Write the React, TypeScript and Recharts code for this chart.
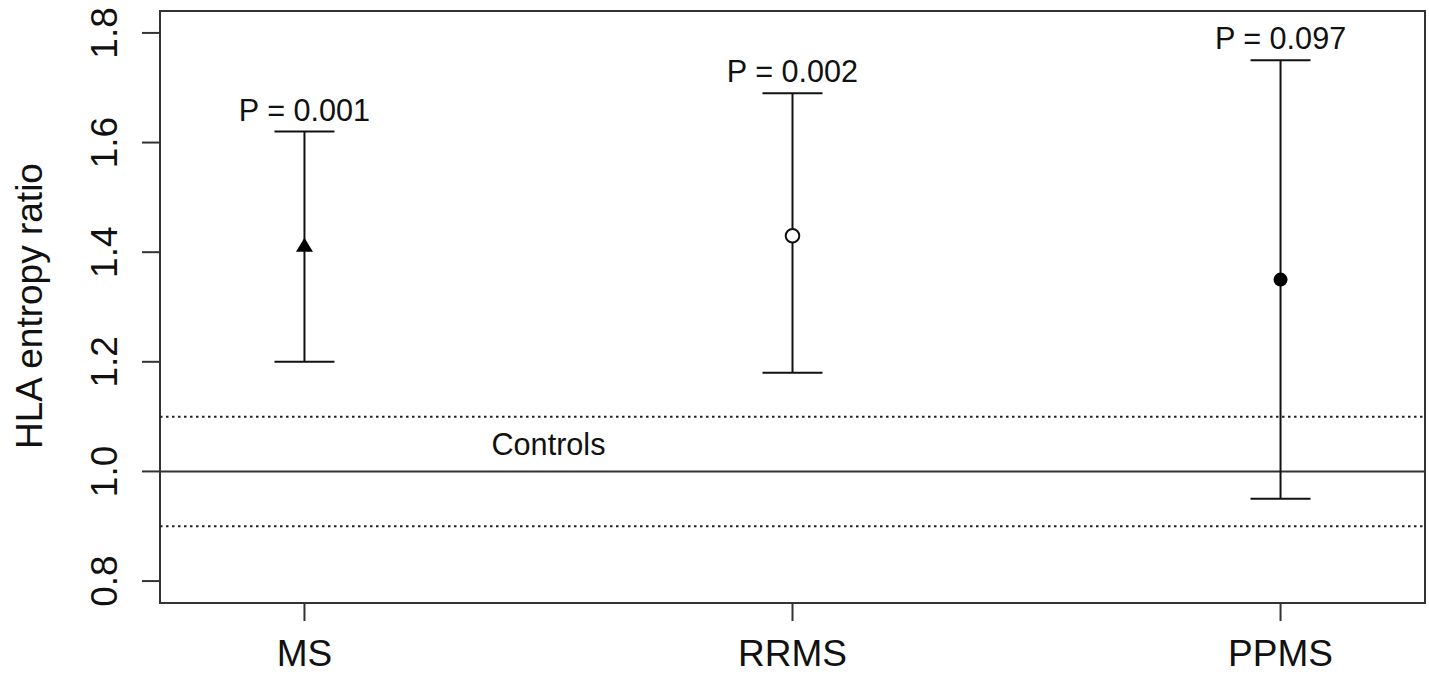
import React from "react";
import {
  ComposedChart,
  Scatter,
  XAxis,
  YAxis,
  ErrorBar,
  ReferenceLine,
  ReferenceArea,
  Customized,
} from "recharts";

const groups = ["MS", "RRMS", "PPMS"];
const groupX = [1, 2, 3];
const means = [1.41, 1.43, 1.35];
const lowers = [1.2, 1.18, 0.95];
const uppers = [1.62, 1.69, 1.75];
const pLabels = ["P = 0.001", "P = 0.002", "P = 0.097"];
const markers = ["triangle", "openCircle", "filledCircle"];
const yTicks = [0.8, 1.0, 1.2, 1.4, 1.6, 1.8];
const controlBand = [0.9, 1.1];
const controlLevel = 1.0;

const data = groups.map((g, i) => ({
  name: g,
  x: groupX[i],
  y: means[i],
  err: [means[i] - lowers[i], uppers[i] - means[i]],
  upper: uppers[i],
  marker: markers[i],
  p: pLabels[i],
}));

const FONT = "Liberation Sans, Arial, Helvetica, sans-serif";
const XDOMAIN: [number, number] = [0.704, 3.296];
const YDOMAIN: [number, number] = [0.76, 1.84];

const MarkerShape = (props: any) => {
  const { cx, cy, payload } = props;
  if (payload.marker === "triangle") {
    return (
      <path
        d={`M${cx},${cy - 9} L${cx + 8.5},${cy + 5} L${cx - 8.5},${cy + 5} Z`}
        fill="#000"
      />
    );
  }
  if (payload.marker === "openCircle") {
    return <circle cx={cx} cy={cy} r={6.8} fill="#fff" stroke="#111" strokeWidth={2} />;
  }
  return <circle cx={cx} cy={cy} r={7} fill="#000" />;
};

const YTick = (props: any) => {
  const { y, payload } = props;
  const x = 117;
  return (
    <text
      x={x}
      y={y}
      transform={`rotate(-90 ${x} ${y})`}
      textAnchor="middle"
      fontSize={37}
      fontFamily={FONT}
      fill="#111"
    >
      {payload.value.toFixed(1)}
    </text>
  );
};

const XTick = (props: any) => {
  const { x, payload } = props;
  const idx = groupX.indexOf(payload.value);
  return (
    <text x={x} y={666} textAnchor="middle" fontSize={37} fontFamily={FONT} fill="#111">
      {idx >= 0 ? groups[idx] : ""}
    </text>
  );
};

const YLabel = () => (
  <text
    x={42}
    y={306}
    transform="rotate(-90 42 306)"
    textAnchor="middle"
    fontSize={37}
    fontFamily={FONT}
    fill="#111"
  >
    HLA entropy ratio
  </text>
);

export default function App() {
  return (
    <div style={{ position: "absolute", left: 0, top: 0, background: "#fff" }}>
      <ComposedChart
        width={1429}
        height={674}
        data={data}
        margin={{ top: 11, right: 4, bottom: 0, left: 0 }}
      >
        <XAxis
          type="number"
          dataKey="x"
          domain={XDOMAIN}
          ticks={groupX}
          allowDataOverflow
          axisLine={false}
          tickLine={{ stroke: "#333", strokeWidth: 2 }}
          tickSize={18}
          tick={<XTick />}
          height={71}
          interval={0}
        />
        <YAxis
          type="number"
          domain={YDOMAIN}
          ticks={yTicks}
          allowDataOverflow
          axisLine={false}
          tickLine={{ stroke: "#333", strokeWidth: 2 }}
          tickSize={18}
          tick={<YTick />}
          width={160}
          interval={0}
        />
        <ReferenceLine
          y={controlBand[1]}
          stroke="#222"
          strokeWidth={2}
          strokeDasharray="2.5 3.5"
        />
        <ReferenceLine y={controlLevel} stroke="#333" strokeWidth={2} />
        <ReferenceLine
          y={controlBand[0]}
          stroke="#222"
          strokeWidth={2}
          strokeDasharray="2.5 3.5"
        />
        <ReferenceArea
          x1={XDOMAIN[0]}
          x2={XDOMAIN[1]}
          y1={YDOMAIN[0]}
          y2={YDOMAIN[1]}
          fill="none"
          fillOpacity={0}
          stroke="#333"
          strokeWidth={2}
        />
        <Scatter
          dataKey="y"
          isAnimationActive={false}
          shape={<MarkerShape />}
        >
          <ErrorBar
            dataKey="err"
            direction="y"
            width={30}
            stroke="#111"
            strokeWidth={2}
            isAnimationActive={false}
          />
        </Scatter>
        <Scatter
          data={data.map((d) => ({ x: d.x, y: d.upper + 0.04, p: d.p }))}
          dataKey="y"
          isAnimationActive={false}
          shape={(props: any) => (
            <text
              x={props.cx}
              y={props.cy + 11}
              textAnchor="middle"
              fontSize={30.6}
              fontFamily={FONT}
              fill="#111"
            >
              {props.payload.p}
            </text>
          )}
        />
        <Scatter
          data={[{ x: 1.5, y: 1.05, t: "Controls" }]}
          dataKey="y"
          isAnimationActive={false}
          shape={(props: any) => (
            <text
              x={props.cx}
              y={props.cy + 11}
              textAnchor="middle"
              fontSize={30.6}
              fontFamily={FONT}
              fill="#111"
            >
              {props.payload.t}
            </text>
          )}
        />
        <Customized component={YLabel} />
      </ComposedChart>
    </div>
  );
}
